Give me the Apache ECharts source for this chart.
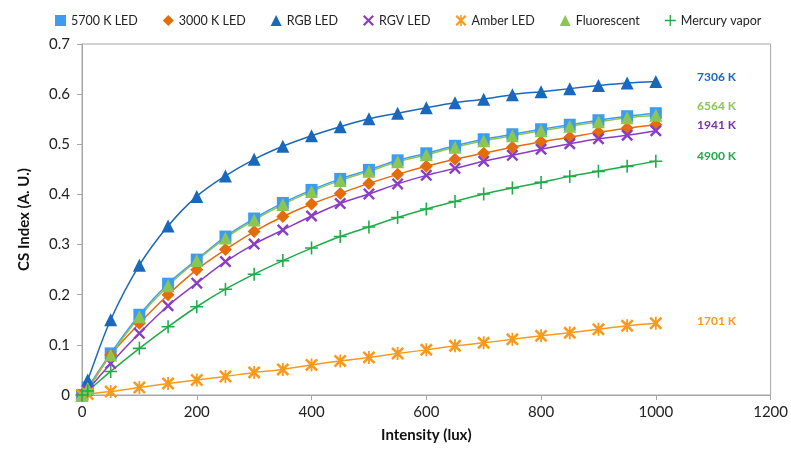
<!DOCTYPE html>
<html>
<head>
<meta charset="utf-8">
<script src="https://cdn.jsdelivr.net/npm/echarts@6/dist/echarts.min.js"></script>
<style>html,body{margin:0;padding:0;background:#fff}#c{width:791px;height:453px}</style>
</head>
<body>
<div id="c"></div>
<script>
const intensity = [0,10,50,100,150,200,250,300,350,400,450,500,550,600,650,700,750,800,850,900,950,1000];
const led5700 = [0,0.015,0.083,0.160,0.222,0.270,0.316,0.352,0.383,0.409,0.431,0.449,0.468,0.482,0.497,0.510,0.520,0.530,0.539,0.548,0.556,0.562];
const led3000 = [0,0.012,0.080,0.143,0.200,0.250,0.290,0.326,0.356,0.381,0.402,0.422,0.440,0.456,0.470,0.482,0.494,0.505,0.514,0.524,0.532,0.539];
const ledRGB  = [0,0.030,0.150,0.259,0.337,0.396,0.437,0.470,0.496,0.517,0.535,0.551,0.562,0.573,0.583,0.590,0.599,0.605,0.611,0.617,0.622,0.625];
const ledRGV  = [0,0.010,0.063,0.123,0.178,0.223,0.266,0.301,0.329,0.357,0.382,0.401,0.421,0.438,0.452,0.466,0.478,0.490,0.501,0.511,0.518,0.527];
const ledAmber= [0,0.002,0.007,0.015,0.023,0.030,0.037,0.045,0.051,0.060,0.068,0.075,0.083,0.090,0.098,0.104,0.111,0.118,0.124,0.131,0.138,0.143];
const fluor   = [0,0.013,0.080,0.156,0.218,0.268,0.313,0.349,0.380,0.406,0.428,0.446,0.465,0.479,0.494,0.507,0.517,0.527,0.536,0.545,0.553,0.558];
const mercury = [0,0.008,0.047,0.093,0.136,0.176,0.211,0.241,0.268,0.293,0.316,0.335,0.354,0.371,0.386,0.401,0.413,0.424,0.436,0.446,0.456,0.466];
const xTicks = [0,200,400,600,800,1000,1200];
const yTicks = [0,0.1,0.2,0.3,0.4,0.5,0.6,0.7];
const cctLabels = ['7306 K','6564 K','1941 K','4900 K','1701 K'];

const P_X = 'path://M0,1.4L1.4,0L5,3.6L8.6,0L10,1.4L6.4,5L10,8.6L8.6,10L5,6.4L1.4,10L0,8.6L3.6,5Z';
const P_AST = 'path://M0,1.4L1.4,0L5,3.6L8.6,0L10,1.4L6.4,5L10,8.6L8.6,10L5,6.4L1.4,10L0,8.6L3.6,5ZM4.3,0H5.7V10H4.3Z';
const P_PLUS = 'path://M4.4,0H5.6V4.4H10V5.6H5.6V10H4.4V5.6H0V4.4H4.4Z';

function pairs(arr){ return arr.map((v,i)=>[intensity[i], v]); }
function mk(name, data, color, symbol, size, lineColor){
  return {
    name, type:'line', data: pairs(data), smooth: 0.35,
    symbol, symbolSize: size,
    lineStyle:{color: lineColor||color, width:1.5},
    itemStyle:{color},
    emphasis:{disabled:true}
  };
}
const chart = echarts.init(document.getElementById('c'), null, {renderer:'canvas'});
const font = 'Lato, "Open Sans", sans-serif';
chart.setOption({
  animation:false,
  textStyle:{fontFamily:font},
  legend:{
    top:9, left:50, width:760, itemGap:25, itemWidth:11, itemHeight:11,
    textStyle:{fontSize:12.5, color:'#222', fontFamily:font},
    data:[
      {name:'5700 K LED', icon:'rect'},
      {name:'3000 K LED', icon:'diamond'},
      {name:'RGB LED', icon:'triangle'},
      {name:'RGV LED', icon:P_X},
      {name:'Amber LED', icon:P_AST},
      {name:'Fluorescent', icon:'triangle'},
      {name:'Mercury vapor', icon:P_PLUS}
    ]
  },
  grid:{left:82, right:19, top:44, bottom:58, show:true, borderColor:'#a6a6a6', borderWidth:1},
  xAxis:{
    type:'value', min:0, max:1200, interval:200,
    name:'Intensity (lux)', nameLocation:'middle', nameGap:33,
    nameTextStyle:{fontSize:15, fontWeight:'bold', color:'#111', fontFamily:font},
    axisLine:{show:true, lineStyle:{color:'#a6a6a6'}},
    axisTick:{show:true, length:5, lineStyle:{color:'#a6a6a6'}},
    axisLabel:{fontSize:15, color:'#222', margin:10, fontFamily:font, formatter:v=>String(v)},
    splitLine:{show:false}
  },
  yAxis:{
    type:'value', min:0, max:0.7, interval:0.1,
    name:'CS Index (A. U.)', nameLocation:'middle', nameGap:50,
    nameTextStyle:{fontSize:15, fontWeight:'bold', color:'#111', fontFamily:font},
    axisLine:{show:true, lineStyle:{color:'#a6a6a6'}},
    axisTick:{show:true, length:5, lineStyle:{color:'#a6a6a6'}},
    axisLabel:{fontSize:15, color:'#222', margin:12, fontFamily:font, formatter:v=>String(+v.toFixed(1))},
    splitLine:{show:false}
  },
  series:[
    mk('5700 K LED', led5700, '#3d9cf0', 'rect', 12, '#3d9cf0'),
    mk('3000 K LED', led3000, '#e46c0a', 'diamond', 13),
    mk('RGB LED', ledRGB, '#1a68bb', 'triangle', 13),
    mk('RGV LED', ledRGV, '#8a3cc4', P_X, 12),
    mk('Amber LED', ledAmber, '#f79a1e', P_AST, 13),
    mk('Fluorescent', fluor, '#8bc653', 'triangle', 13),
    mk('Mercury vapor', mercury, '#1eab4a', P_PLUS, 13)
  ],
  graphic:[
    {type:'text', left:697, top:71, style:{text:cctLabels[0], fill:'#1a68bb', font:'bold 12px '+font}},
    {type:'text', left:697, top:100, style:{text:cctLabels[1], fill:'#8bc653', font:'bold 12px '+font}},
    {type:'text', left:697, top:119, style:{text:cctLabels[2], fill:'#7a30a8', font:'bold 12px '+font}},
    {type:'text', left:697, top:150, style:{text:cctLabels[3], fill:'#1eab4a', font:'bold 12px '+font}},
    {type:'text', left:697, top:315, style:{text:cctLabels[4], fill:'#f79a1e', font:'bold 12px '+font}}
  ]
});
</script>
</body>
</html>
